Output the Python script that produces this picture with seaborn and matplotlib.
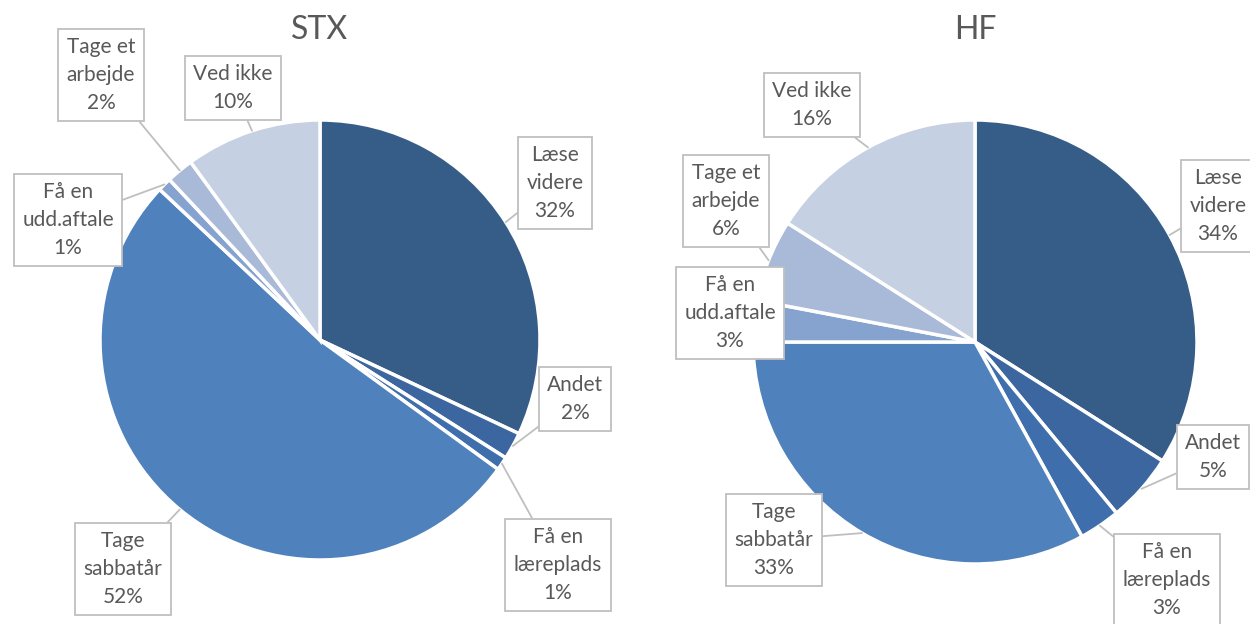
import numpy as np
import matplotlib
matplotlib.use("Agg")
import matplotlib.pyplot as plt
import seaborn as sns

# Data
categories = ["Læse\nvidere", "Andet", "Få en\nlæreplads", "Tage\nsabbatår",
              "Få en\nudd.aftale", "Tage et\narbejde", "Ved ikke"]
stx_values = [32, 2, 1, 52, 1, 2, 10]
hf_values = [34, 5, 3, 33, 3, 6, 16]
colors = ["#365C88", "#3B66A0", "#3F6EAD", "#4F81BD", "#86A2CF", "#A9BAD9", "#C5D0E3"]

sns.set_theme(style="white")
plt.rcParams["font.family"] = ["Lato", "DejaVu Sans"]

W, H = 1250, 624
fig = plt.figure(figsize=(12.5, 6.24), dpi=100)
ax = fig.add_axes([0, 0, 1, 1])

# layout in pixel coords (y from top)
pies = [
    dict(title="STX", values=stx_values, cx=320, cy=340, r=220, tx=320, ty=30,
         boxes=[(555, 183), (575, 399), (558, 565), (123, 569), (68, 220), (101, 75), (233, 88)]),
    dict(title="HF", values=hf_values, cx=975, cy=342, r=222, tx=975, ty=30,
         boxes=[(1218, 206), (1213, 457), (1167, 580), (774, 540), (730, 313), (726, 201), (812, 105)]),
]

text_color = "#595959"
for p in pies:
    wedges, _ = ax.pie(p["values"], colors=colors, startangle=90, counterclock=False,
                       center=(p["cx"], H - p["cy"]), radius=p["r"],
                       wedgeprops=dict(edgecolor="white", linewidth=2.5))
    ax.text(p["tx"], H - p["ty"], p["title"], ha="center", va="center",
            fontsize=23, color=text_color)
    for w, lab, val, (bx, by) in zip(wedges, categories, p["values"], p["boxes"]):
        mid = np.deg2rad((w.theta1 + w.theta2) / 2)
        px = p["cx"] + p["r"] * np.cos(mid)
        py = H - p["cy"] + p["r"] * np.sin(mid)
        ax.annotate(f"{lab}\n{val}%", xy=(px, py), xytext=(bx, H - by),
                    ha="center", va="center", fontsize=15, color=text_color,
                    linespacing=1.5,
                    bbox=dict(boxstyle="square,pad=0.4", fc="white", ec="#BFBFBF", lw=1.3),
                    arrowprops=dict(arrowstyle="-", color="#BFBFBF", lw=1.3,
                                    shrinkA=0, shrinkB=0))

ax.set_xlim(0, W)
ax.set_ylim(0, H)
ax.set_aspect("auto")
ax.axis("off")

fig.savefig("out.png", dpi=100)
